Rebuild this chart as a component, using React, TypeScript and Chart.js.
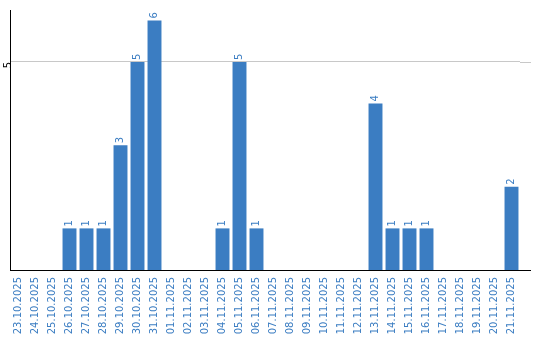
import React, { useEffect, useRef } from "react";
import { Chart, registerables } from "chart.js";

Chart.register(...registerables);

const categories: string[] = [
  "23.10.2025", "24.10.2025", "25.10.2025", "26.10.2025", "27.10.2025", "28.10.2025",
  "29.10.2025", "30.10.2025", "31.10.2025", "01.11.2025", "02.11.2025", "03.11.2025",
  "04.11.2025", "05.11.2025", "06.11.2025", "07.11.2025", "08.11.2025", "09.11.2025",
  "10.11.2025", "11.11.2025", "12.11.2025", "13.11.2025", "14.11.2025", "15.11.2025",
  "16.11.2025", "17.11.2025", "18.11.2025", "19.11.2025", "20.11.2025", "21.11.2025",
];
const counts: number[] = [
  0, 0, 0, 1, 1, 1,
  3, 5, 6, 0, 0, 0,
  1, 5, 1, 0, 0, 0,
  0, 0, 0, 4, 1, 1,
  1, 0, 0, 0, 0, 2,
];
const yTickValues: number[] = [5];

const BLUE = "#3b7dc2";
const FONT = "'DejaVu Sans', sans-serif";

const extraPlugin = {
  id: "extras",
  afterDatasetsDraw(chart: any) {
    const ctx = chart.ctx;
    const area = chart.chartArea;
    const y = chart.scales.y;
    ctx.save();
    // extend grid line and x axis line to the right
    ctx.lineWidth = 1;
    ctx.strokeStyle = "#c8c8c8";
    for (const v of yTickValues) {
      const py = Math.round(y.getPixelForValue(v)) + 0.5;
      ctx.beginPath();
      ctx.moveTo(area.right, py);
      ctx.lineTo(area.right + 11, py);
      ctx.stroke();
    }
    ctx.strokeStyle = "#000";
    const by = Math.round(area.bottom) + 0.5;
    ctx.beginPath();
    ctx.moveTo(area.right, by);
    ctx.lineTo(area.right + 11, by);
    ctx.stroke();
    // data labels
    const meta = chart.getDatasetMeta(0);
    ctx.fillStyle = BLUE;
    ctx.font = "10px " + FONT;
    ctx.textAlign = "left";
    ctx.textBaseline = "middle";
    meta.data.forEach((bar: any, i: number) => {
      const v = counts[i];
      if (!v) return;
      ctx.save();
      ctx.translate(bar.x, bar.y - 2);
      ctx.rotate(-Math.PI / 2);
      ctx.fillText(String(v), 0, 0);
      ctx.restore();
    });
    ctx.restore();
  },
};

export default function App() {
  const ref = useRef<HTMLCanvasElement | null>(null);
  useEffect(() => {
    if (!ref.current) return;
    const chart = new Chart(ref.current, {
      type: "bar",
      data: {
        labels: categories,
        datasets: [
          {
            data: counts,
            backgroundColor: BLUE,
            borderWidth: 0,
            barPercentage: 0.82,
            categoryPercentage: 1,
          },
        ],
      },
      options: {
        animation: false,
        responsive: false,
        maintainAspectRatio: false,
        layout: { padding: { top: 10, right: 20, left: 0, bottom: 0 } },
        plugins: { legend: { display: false }, tooltip: { enabled: false } },
        scales: {
          x: {
            grid: { display: false, drawTicks: false },
            border: { color: "#000", width: 1 },
            ticks: {
              color: BLUE,
              font: { family: FONT, size: 10 },
              minRotation: 90,
              maxRotation: 90,
              autoSkip: false,
              padding: 7,
            },
            afterFit: (s: any) => {
              s.height = 70;
            },
          },
          y: {
            min: 0,
            max: 6.25,
            grid: { color: "#c8c8c8", drawTicks: false },
            border: { color: "#000", width: 1 },
            ticks: {
              color: "#000",
              font: { family: FONT, size: 10 },
              minRotation: 90,
              maxRotation: 90,
              padding: 2,
              stepSize: 5,
            },
            afterBuildTicks: (s: any) => {
              s.ticks = yTickValues.map((v) => ({ value: v }));
            },
            afterFit: (s: any) => {
              s.width = 10;
            },
          },
        },
      },
      plugins: [extraPlugin],
    });
    return () => chart.destroy();
  }, []);
  return (
    <div style={{ position: "fixed", left: 0, top: 0, width: 540, height: 340, background: "#fff" }}>
      <canvas ref={ref} width={540} height={340} style={{ width: 540, height: 340 }} />
    </div>
  );
}
